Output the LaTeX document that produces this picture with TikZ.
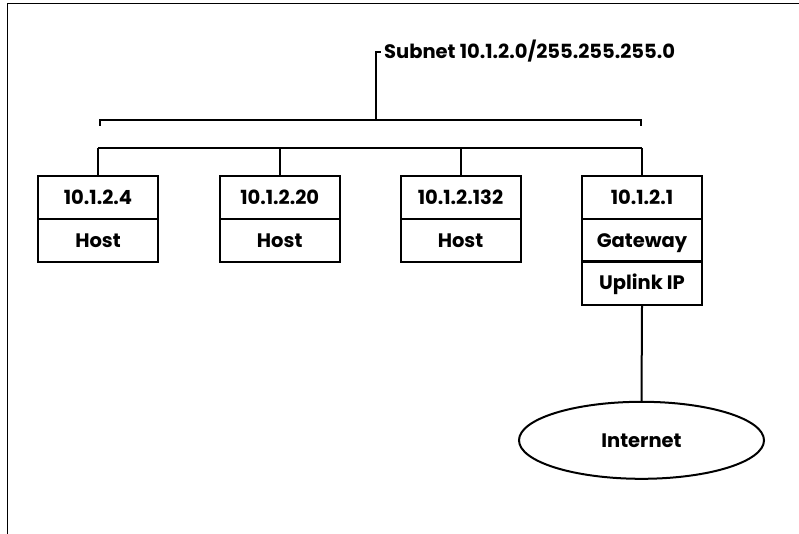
\documentclass[tikz,border=0pt]{standalone}
\usepackage{fontspec}
\setmainfont{Poppins}
\usetikzlibrary{shapes.geometric}
\begin{document}
\begin{tikzpicture}[x=1pt,y=-1pt,
  wire/.style={line width=2pt},
  txt/.style={font=\fontsize{19.5}{22}\selectfont\bfseries,text height=13.6pt,text depth=0pt},
  cell/.style={txt,draw,line width=2pt,minimum width=120pt,minimum height=43pt,inner sep=0pt},
  lbl/.style={txt,inner sep=0pt}]
\useasboundingbox (0,0) rectangle (799,534);
\fill[white] (0,0) rectangle (799,534);
% frame (top and left edges)
\draw[line width=1.5pt] (799,3.5) -- (7.5,3.5) -- (7.5,534);
% subnet label
\node[lbl,anchor=west] (subnet) at (384,51.5) {Subnet 10.1.2.0/255.255.255.0};
\coordinate (bk) at (380.5,52);
\coordinate (bt) at (376,52);
\coordinate (ub) at (376,120);
\coordinate (ubl) at (100,120);
\coordinate (ubr) at (641,120);
\coordinate (ubld) at (100,126);
\coordinate (ubrd) at (641,126);
\coordinate (lbl) at (98,148);
\coordinate (lbr) at (642,148);
% cells
\node[cell] (h1a) at (98,197.5) {10.1.2.4};
\node[cell] (h1b) at (98,240.5) {Host};
\node[cell] (h2a) at (279.7,197.5) {10.1.2.20};
\node[cell] (h2b) at (279.7,240.5) {Host};
\node[cell] (h3a) at (460.5,197.5) {10.1.2.132};
\node[cell] (h3b) at (460.5,240.5) {Host};
\node[cell] (g1) at (642,197.5) {10.1.2.1};
\node[cell] (g2) at (642,240.5) {Gateway};
\node[cell] (g3) at (642,283) {Uplink IP};
\node[txt,draw,ellipse,line width=2pt,minimum width=245pt,minimum height=77pt,inner sep=0pt] (inet) at (641.5,440.3) {Internet};
% connectors
\draw[wire,line join=miter] (bk) -- (bt) -- (ub);
\draw[wire,line join=miter] (ubld) -- (ubl) -- (ubr) -- (ubrd);
\draw[wire] (lbl) -- (lbr);
\draw[wire] (h1a.north) -- (h1a.north |- lbl);
\draw[wire] (h2a.north) -- (h2a.north |- lbl);
\draw[wire] (h3a.north) -- (h3a.north |- lbl);
\draw[wire] (g1.north) -- (g1.north |- lbl);
\draw[wire] (g3.south) -- (inet.north);
\end{tikzpicture}
\end{document}
